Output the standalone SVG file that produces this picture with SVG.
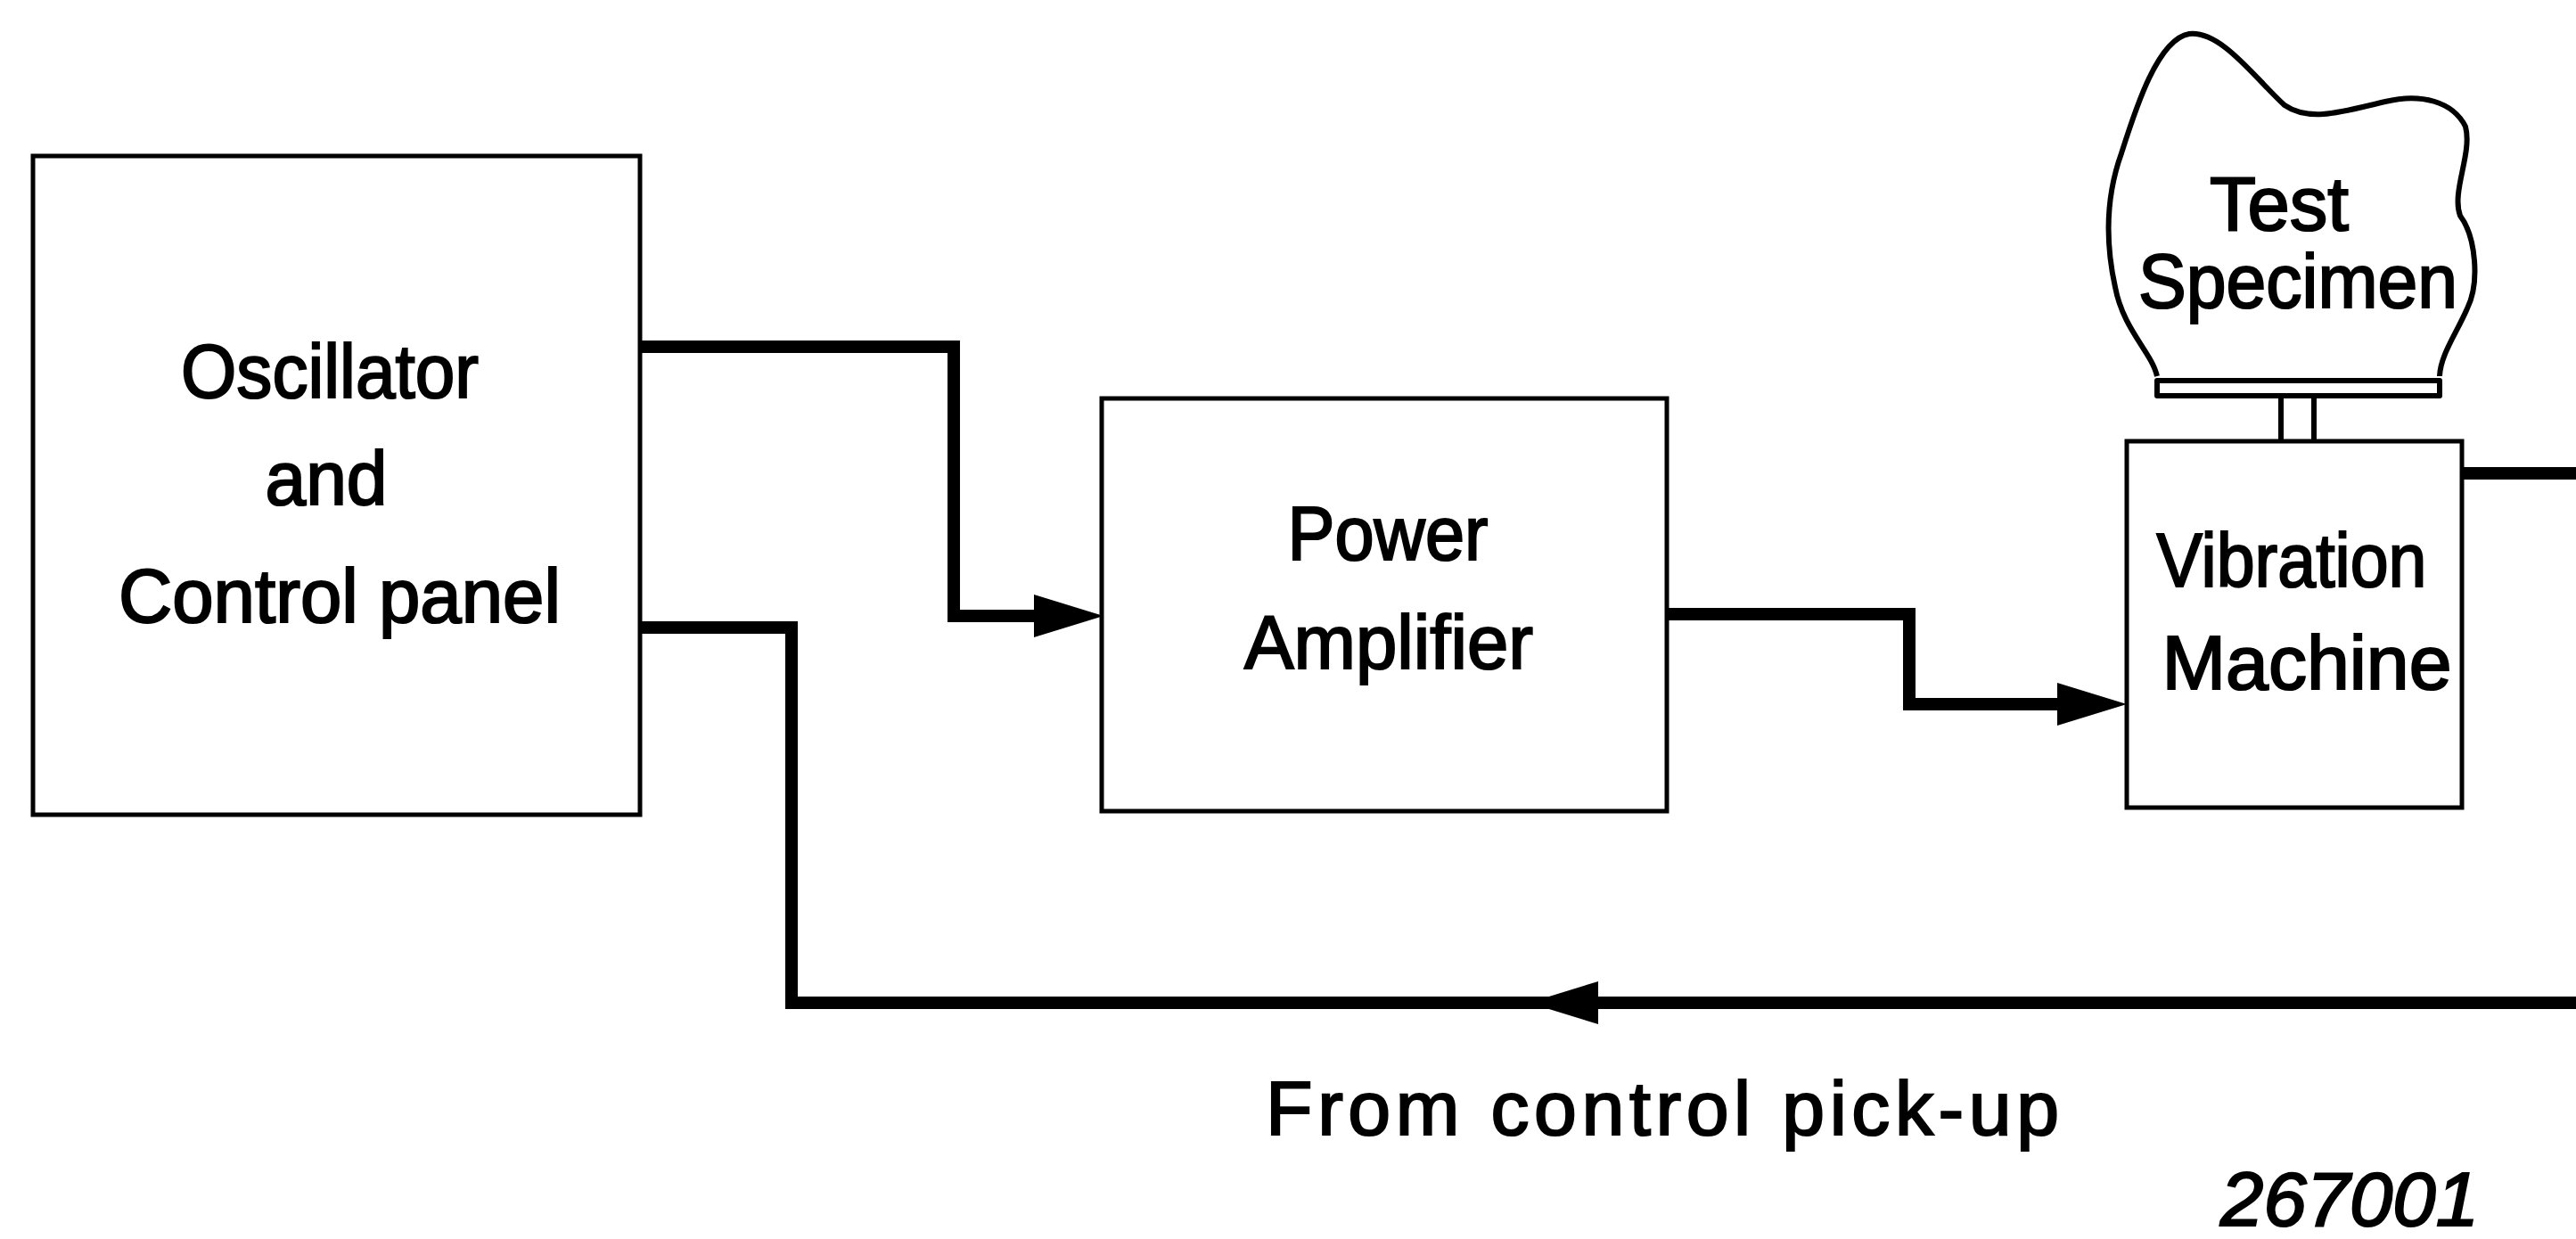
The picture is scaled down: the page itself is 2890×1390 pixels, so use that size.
<svg xmlns="http://www.w3.org/2000/svg" width="2890" height="1390" viewBox="0 0 2890 1390">
<style>
.box{fill:none;stroke:#000;stroke-width:5}
.lbl{font-family:"Liberation Sans","DejaVu Sans",sans-serif;font-size:86px;fill:#000;stroke:#000;stroke-width:2.2;text-anchor:middle}
.conn{fill:none;stroke:#000;stroke-width:14;stroke-linejoin:miter;stroke-linecap:butt}
.thin{fill:none;stroke:#000;stroke-width:6;stroke-linejoin:round}
</style>
<defs>
<marker id="arr" markerUnits="userSpaceOnUse" viewBox="0 0 80 50" markerWidth="80" markerHeight="50" refX="0" refY="25" orient="auto">
<path d="M0,1 L78,25 L0,49 Z" fill="#000"/>
</marker>
</defs>
<rect width="2890" height="1390" fill="#fff"/>

<g id="oscillator">
<rect class="box" x="37" y="175" width="681" height="739"/>
<text class="lbl" x="370" y="446" textLength="334" lengthAdjust="spacingAndGlyphs">Oscillator</text>
<text class="lbl" x="366" y="566" textLength="137" lengthAdjust="spacingAndGlyphs">and</text>
<text class="lbl" x="381" y="698" textLength="496" lengthAdjust="spacingAndGlyphs">Control panel</text>
</g>

<g id="power-amplifier">
<rect class="box" x="1236" y="447" width="634" height="463"/>
<text class="lbl" x="1557" y="628" textLength="225" lengthAdjust="spacingAndGlyphs">Power</text>
<text class="lbl" x="1558" y="750" textLength="324" lengthAdjust="spacingAndGlyphs">Amplifier</text>
</g>

<g id="vibration-machine">
<rect class="box" x="2386" y="495" width="376" height="411"/>
<text class="lbl" x="2571" y="658" textLength="303" lengthAdjust="spacingAndGlyphs">Vibration</text>
<text class="lbl" x="2588" y="773" textLength="325" lengthAdjust="spacingAndGlyphs">Machine</text>
</g>

<g id="test-specimen">
<path class="thin" d="M2420,422 C2414,395 2382,370 2373,322 C2362,272 2362,222 2380,172 C2395,125 2420,44 2456,38 C2492,34 2530,88 2563,118 C2592,138 2632,124 2676,114 C2716,104 2752,114 2766,142 C2774,172 2750,215 2760,242 C2778,266 2782,318 2768,346 C2756,374 2738,398 2737,422"/>
<rect class="thin" x="2420" y="427" width="317" height="17" stroke-linejoin="miter"/>
<path class="thin" d="M2559,444 V495 M2596,444 V495"/>
<text class="lbl" x="2557" y="258" textLength="156" lengthAdjust="spacingAndGlyphs" stroke-width="3.5">Test</text>
<text class="lbl" x="2578" y="345" textLength="358" lengthAdjust="spacingAndGlyphs" stroke-width="3.5">Specimen</text>
</g>

<g id="connectors">
<path class="conn" d="M718,389 H1070 V691 H1160" marker-end="url(#arr)"/>
<path class="conn" d="M1870,689 H2142 V790 H2308" marker-end="url(#arr)"/>
<path class="conn" d="M2762,531 H2890"/>
<path class="conn" d="M2890,1125 H1793" marker-end="url(#arr)"/>
<path class="conn" d="M1800,1125 H888 V704 H718"/>
</g>

<g id="labels">
<text class="lbl" x="1865" y="1273" textLength="890" lengthAdjust="spacing">From control pick-up</text>
<text class="lbl" x="2636" y="1375" textLength="290" lengthAdjust="spacingAndGlyphs" font-style="italic" stroke-width="0">267001</text>
</g>
</svg>
